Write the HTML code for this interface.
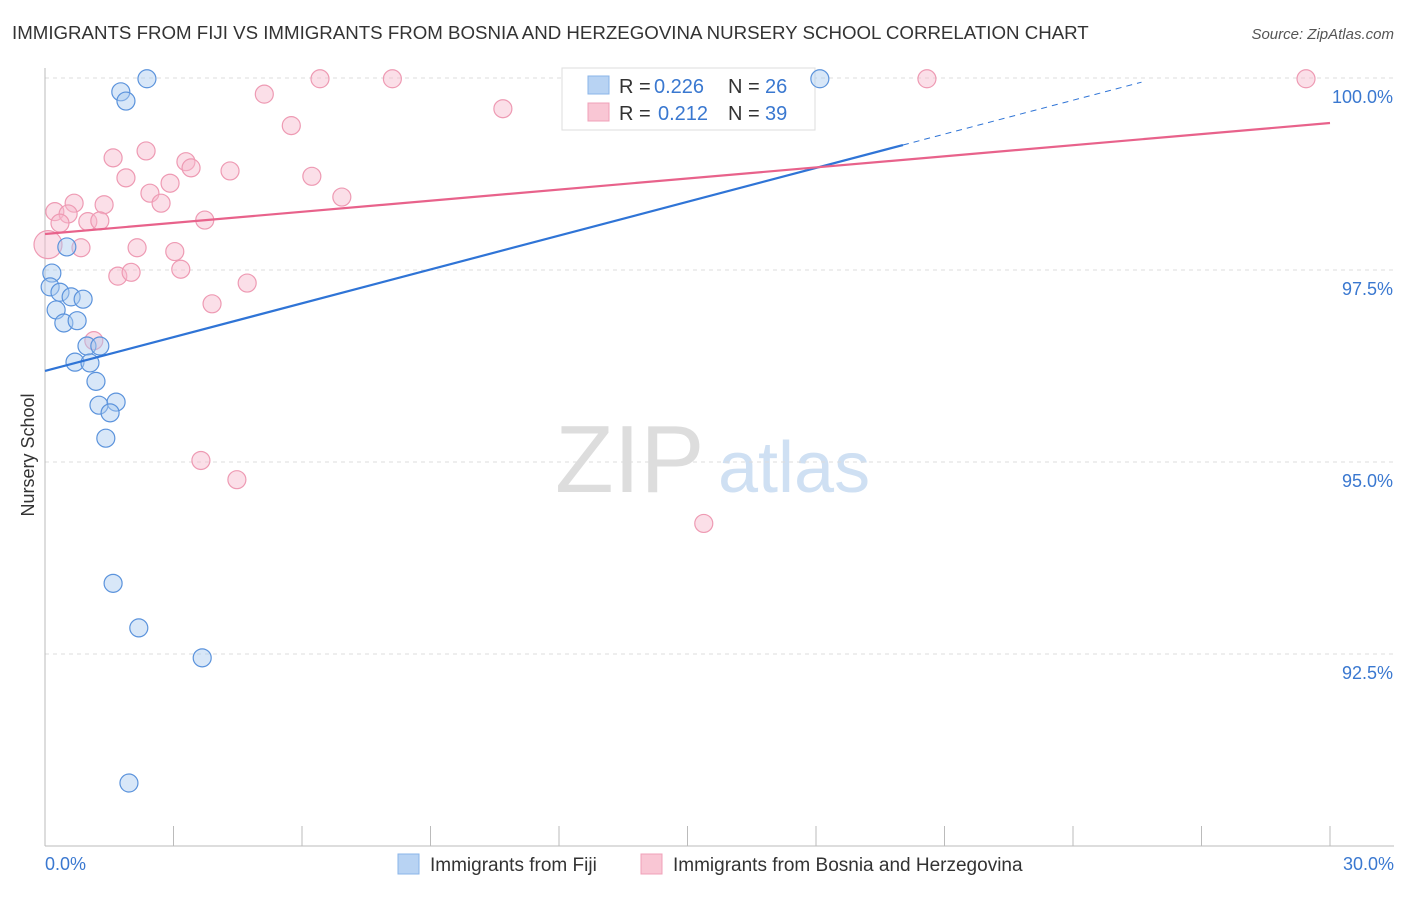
<!DOCTYPE html>
<html><head><meta charset="utf-8"><style>
body{margin:0;background:#fff;font-family:"Liberation Sans",sans-serif;}
svg text{font-family:"Liberation Sans",sans-serif;}
</style></head><body>
<svg id="c" width="1406" height="892" xmlns="http://www.w3.org/2000/svg">
<text x="12" y="39" font-size="18.7" fill="#333">IMMIGRANTS FROM FIJI VS IMMIGRANTS FROM BOSNIA AND HERZEGOVINA NURSERY SCHOOL CORRELATION CHART</text>
<text x="1394" y="39" font-size="15" fill="#555" font-style="italic" text-anchor="end">Source: ZipAtlas.com</text>
<text x="555" y="492" font-size="96" fill="#ddd" font-family="Liberation Serif">ZIP</text>
<text x="718" y="492" font-size="72" fill="#cfe0f3">atlas</text>
<text transform="translate(34,455) rotate(-90)" font-size="18" fill="#333" text-anchor="middle">Nursery School</text>
<g id="grid"></g><g id="axes"></g>
<g>
<rect x="562" y="68" width="253" height="62" fill="#fff" stroke="#ddd"/>
<rect x="588" y="76" width="21" height="18" fill="#b8d3f3" stroke="#8ab4e8"/>
<rect x="588" y="103" width="21" height="18" fill="#f9c6d4" stroke="#f0a0b8"/>
<text x="619" y="93" font-size="20" fill="#333">R =</text>
<text x="654" y="93" font-size="20" fill="#3a78d0">0.226</text>
<text x="728" y="93" font-size="20" fill="#333">N =</text>
<text x="765" y="93" font-size="20" fill="#3a78d0">26</text>
<text x="619" y="120" font-size="20" fill="#333">R =</text>
<text x="658" y="120" font-size="20" fill="#3a78d0">0.212</text>
<text x="728" y="120" font-size="20" fill="#333">N =</text>
<text x="765" y="120" font-size="20" fill="#3a78d0">39</text>
</g>
<g id="marks"></g>
<g>
<rect x="398" y="854" width="21" height="20" fill="#b8d3f3" stroke="#8ab4e8"/>
<text x="430" y="871" font-size="19" fill="#333">Immigrants from Fiji</text>
<rect x="641" y="854" width="21" height="20" fill="#f9c6d4" stroke="#f0a0b8"/>
<text x="673" y="871" font-size="19" fill="#333">Immigrants from Bosnia and Herzegovina</text>
</g>
</svg>
<script>
const fijiX=[2.38,1.77,1.89,18.09,0.51,0.16,0.12,0.35,0.61,0.89,0.26,0.44,0.75,0.98,1.28,0.70,1.05,1.19,1.26,1.66,1.52,1.42,1.59,2.19,3.67,1.96];
const fijiY=[99.99,99.82,99.70,99.99,97.80,97.46,97.28,97.21,97.15,97.12,96.98,96.81,96.84,96.51,96.51,96.30,96.29,96.05,95.74,95.78,95.64,95.31,93.42,92.84,92.45,90.82];
const bosX=[6.42,8.11,20.59,29.44,5.12,10.69,5.75,2.36,1.59,3.29,3.41,1.89,4.32,6.23,2.92,2.45,2.71,6.93,1.38,0.68,0.23,0.54,0.35,1.00,1.28,3.73,0.84,2.15,3.03,3.17,1.70,2.01,4.72,3.90,1.14,3.64,4.48,15.38,0.07];
const bosY=[99.99,99.99,99.99,99.99,99.79,99.60,99.38,99.05,98.96,98.91,98.83,98.70,98.79,98.72,98.63,98.50,98.37,98.45,98.35,98.37,98.26,98.23,98.11,98.13,98.14,98.15,97.79,97.79,97.74,97.51,97.42,97.47,97.33,97.06,96.58,95.02,94.77,94.20,97.83];
const xTicks=[0,30];
const yTicks=[92.5,95,97.5,100];
const fijiLine=[96.185,0.1469];
const bosLine=[97.969,0.04817];
const X0=45,X1=1330,Y100=78,PPP=192/2.5;
const sx=v=>X0+(v/30)*(X1-X0);
const sy=v=>Y100+(100-v)*PPP;
const NS="http://www.w3.org/2000/svg";
function mk(tag,attrs,parent){const e=document.createElementNS(NS,tag);for(const k in attrs)e.setAttribute(k,attrs[k]);parent.appendChild(e);return e;}
const grid=document.getElementById('grid'),axes=document.getElementById('axes'),marks=document.getElementById('marks');
yTicks.forEach(t=>{
 const l=mk('line',{x1:X0,x2:1394,y1:sy(t),y2:sy(t),stroke:'#ddd','stroke-dasharray':'4,4'},grid);
 
 
 const tx=mk('text',{x:1393,y:sy(t)+25,'font-size':18,fill:'#3a78d0','text-anchor':'end'},axes);
 tx.textContent=t.toFixed(1)+'%';
 
 
});
const ya=mk('line',{x1:X0,x2:X0,y1:68,y2:846,stroke:'#bbb'},axes);


const xa=mk('line',{x1:X0,x2:1394,y1:846,y2:846,stroke:'#bbb'},axes);


for(let i=1;i<=10;i++){
 const t=mk('line',{x1:sx(i*3),x2:sx(i*3),y1:826,y2:846,stroke:'#bbb'},axes);
 
 
}
xTicks.forEach(v=>{
 const tx=mk('text',{x:v===0?45:1394,y:870,'font-size':18,fill:'#3a78d0','text-anchor':v===0?'start':'end'},axes);
 tx.textContent=v.toFixed(1)+'%';
 
 
});
function dots(xs,ys,fill,stroke,name){
 xs.forEach((x,i)=>{
  const c=mk('circle',{cx:sx(x),cy:sy(ys[i]),r:i===38&&name==='bosnia-point'?14:9,fill:fill,'fill-opacity':0.45,stroke:stroke,'stroke-width':1.2},marks);
  
  
 });
}
dots(bosX,bosY,'#f7b8cb','#ee9ab3','bosnia-point');
dots(fijiX,fijiY,'#a9c9f0','#5b93dc','fiji-point');
const fEnd=20.03;
const fl=mk('line',{x1:sx(0),y1:sy(fijiLine[0]),x2:sx(fEnd),y2:sy(fijiLine[0]+fijiLine[1]*fEnd),stroke:'#2f74d6','stroke-width':2.2},marks);


const fEnd2=25.6;
const fd=mk('line',{x1:sx(fEnd),y1:sy(fijiLine[0]+fijiLine[1]*fEnd),x2:sx(fEnd2),y2:sy(fijiLine[0]+fijiLine[1]*fEnd2),stroke:'#2f74d6','stroke-width':1,'stroke-dasharray':'6,5'},marks);


const bl=mk('line',{x1:sx(0),y1:sy(bosLine[0]),x2:sx(30),y2:sy(bosLine[0]+bosLine[1]*30),stroke:'#e8628b','stroke-width':2.2},marks);


</script>
</body></html>
